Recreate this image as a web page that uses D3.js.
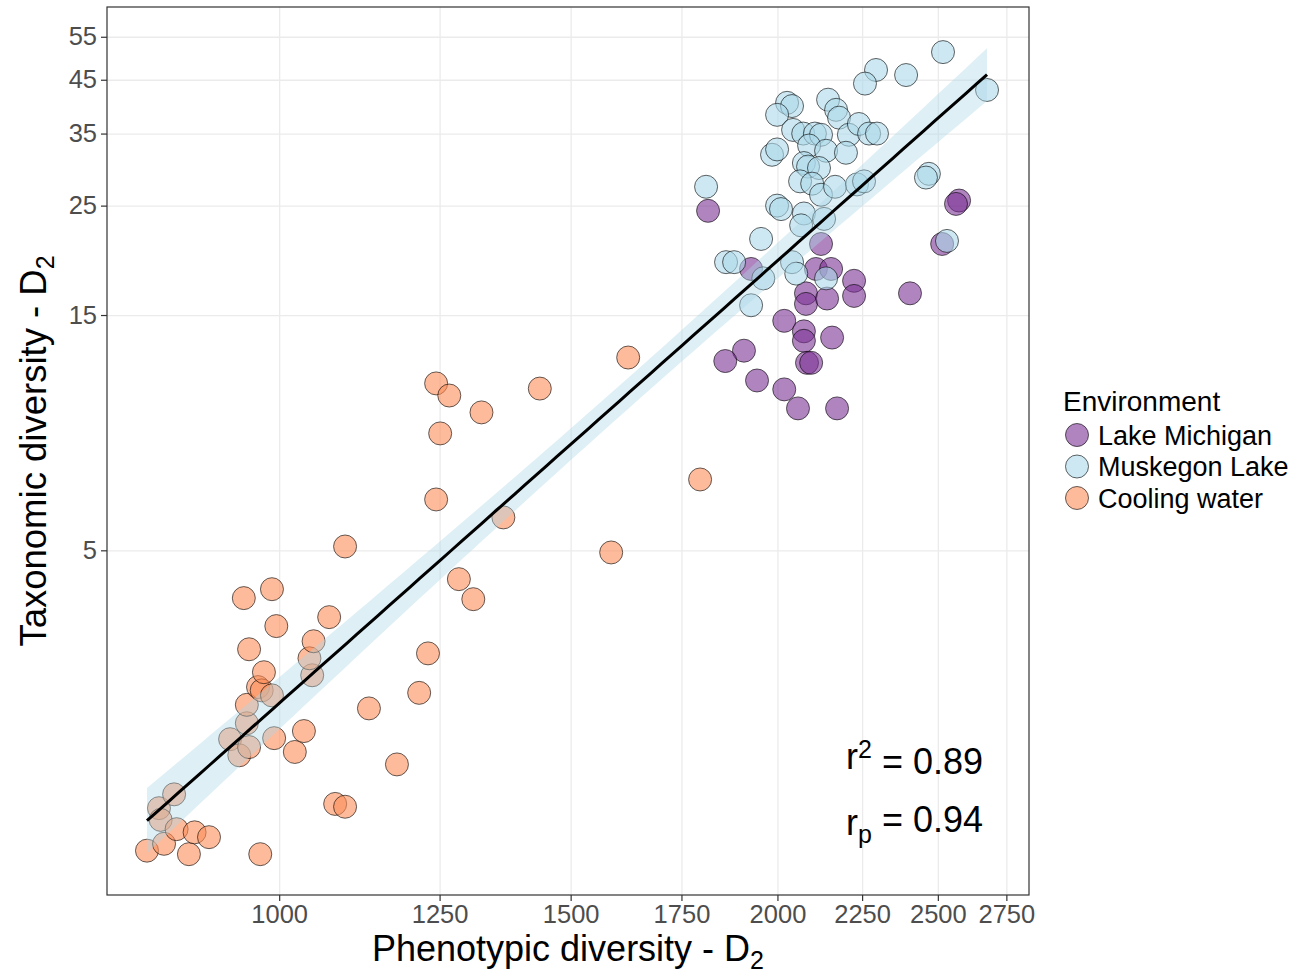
<!DOCTYPE html>
<html>
<head>
<meta charset="utf-8">
<script src="https://cdn.jsdelivr.net/npm/d3@7"></script>
<style>
  body { margin: 0; background: #fff; }
  svg { font-family: "Liberation Sans", Arial, sans-serif; }
</style>
</head>
<body>
<div class="visualization"></div>
<script>
// Values (phenotypic D2, taxonomic D2)
var lakeMichiganX = [1816, 2575, 2564, 2515, 2405, 2125, 1928, 2110, 2155, 2225, 2225, 2081, 2081,
                     2143, 2019, 2075, 2075, 2158, 2084, 2096, 1909, 1860, 1944, 2019, 2058, 2173];
var lakeMichiganY = [24.4, 25.6, 25.2, 20.9, 16.6, 20.9, 18.6, 18.6, 18.6, 17.6, 16.4, 16.6, 15.8,
                     16.2, 14.6, 13.9, 13.3, 13.5, 12.0, 12.0, 12.7, 12.1, 11.05, 10.6, 9.7, 9.7];

var muskegonX = [2518, 2677, 2392, 2294, 2259, 2146, 2170, 2179, 2027, 2041, 1999, 2044, 2073,
                 2107, 2125, 2209, 2240, 2272, 2297, 1985, 1999, 2090, 2140, 2200, 2075, 2087,
                 2119, 2064, 2099, 2125, 2167, 2234, 2256, 2469, 2459, 1811, 1999, 2010, 2075,
                 2067, 2134, 1955, 1862, 1883, 1961, 2041, 2053, 2140, 1928, 2532];
var muskegonY = [51.2, 42.9, 46.0, 47.1, 44.2, 41.0, 39.1, 37.7, 40.4, 39.8, 38.2, 35.6, 35.0,
                 35.0, 34.8, 34.8, 36.6, 35.0, 35.0, 31.7, 32.5, 33.1, 32.3, 32.0, 30.5, 30.0,
                 29.8, 28.0, 27.7, 26.3, 27.3, 27.6, 28.0, 29.0, 28.5, 27.3, 25.0, 24.6, 24.1,
                 22.8, 23.5, 21.4, 19.2, 19.2, 17.8, 19.2, 18.2, 17.8, 15.7, 21.2];

var coolingX = [832, 846, 848, 864, 852, 867, 882, 889, 907, 974, 934, 946, 956, 959, 956, 971,
                976, 979, 990, 993, 952, 990, 996, 959, 1022, 1035, 1047, 1043, 1049, 1072, 1096,
                1081, 1096, 1133, 1178, 1215, 1230, 1244, 1251, 1244, 1267, 1284, 1310, 1325,
                1366, 1437, 1587, 1625, 1796];
var coolingY = [1.23, 1.50, 1.42, 1.60, 1.27, 1.36, 1.21, 1.34, 1.31, 1.21, 2.07, 1.92, 2.23,
                1.995, 2.43, 2.64, 2.60, 2.83, 2.54, 2.08, 4.00, 4.17, 3.51, 3.15, 1.95, 2.15,
                2.79, 3.02, 3.27, 3.66, 5.09, 1.53, 1.51, 2.39, 1.84, 2.57, 3.09, 6.34, 8.63,
                10.9, 10.30, 4.37, 3.98, 9.52, 5.83, 10.64, 4.95, 12.3, 6.96];

var environments = ["Lake Michigan", "Muskegon Lake", "Cooling water"];
var envColors = ["#7B3294", "#ABD9E9", "#FC8D59"];
var xTicks = [1000, 1250, 1500, 1750, 2000, 2250, 2500, 2750];
var yTicks = [5, 15, 25, 35, 45, 55];
var xDomain = [787, 2838];
var yDomain = [1.0, 63.2];

var margin = {top: 7, right: 269, bottom: 78, left: 107};
var width = 922;
var height = 888;

function rows(xs, ys, env){
    return xs.map(function(d, i){ return {x: d, y: ys[i], env: env}; });
}

var points = rows(lakeMichiganX, lakeMichiganY, 0)
    .concat(rows(muskegonX, muskegonY, 1))
    .concat(rows(coolingX, coolingY, 2));

var svg = d3.select(".visualization").append("svg")
    .attr("width", 1298)
    .attr("height", 973);

var viz = svg.append("g")
    .attr("transform", "translate(" + margin.left + "," + margin.top + ")");

var xScale = d3.scaleLog().domain(xDomain).range([0, width]);
var yScale = d3.scaleLog().domain(yDomain).range([height, 0]);

// grid
viz.append("g")
    .attr("transform", "translate(0," + height + ")")
    .call(d3.axisBottom(xScale).tickValues(xTicks).tickSize(-height).tickFormat(""))
    .call(function(g){ g.select(".domain").remove(); });
viz.append("g")
    .call(d3.axisLeft(yScale).tickValues(yTicks).tickSize(-width).tickFormat(""))
    .call(function(g){ g.select(".domain").remove(); });
viz.selectAll(".tick line").attr("stroke", "#EBEBEB").attr("stroke-width", 1.3);

// linear fit on log-log data, with 95% band
var lx = points.map(function(d){ return Math.log10(d.x); });
var ly = points.map(function(d){ return Math.log10(d.y); });
var n = points.length;
var mx = d3.mean(lx), my = d3.mean(ly);
var sxx = d3.sum(lx, function(v){ return (v - mx) * (v - mx); });
var sxy = d3.sum(lx, function(v, i){ return (v - mx) * (ly[i] - my); });
var slope = sxy / sxx;
var icept = my - slope * mx;
var sse = d3.sum(lx, function(v, i){ var r = ly[i] - (icept + slope * v); return r * r; });
var sres = Math.sqrt(sse / (n - 2));
var tval = 1.98;
var xmin = d3.min(lx), xmax = d3.max(lx);
var fit = d3.range(0, 81).map(function(k){
    var v = xmin + (xmax - xmin) * k / 80;
    var f = icept + slope * v;
    var se = sres * Math.sqrt(1 / n + (v - mx) * (v - mx) / sxx);
    return {x: Math.pow(10, v), y: Math.pow(10, f),
            lo: Math.pow(10, f - tval * se), hi: Math.pow(10, f + tval * se)};
});

// points
viz.selectAll(".dot")
    .data(points)
    .enter().append("circle")
    .attr("class", "dot")
    .attr("cx", function(d){ return xScale(d.x); })
    .attr("cy", function(d){ return yScale(d.y); })
    .attr("r", 11.5)
    .attr("fill", function(d){ return envColors[d.env]; })
    .attr("fill-opacity", 0.6)
    .attr("stroke", "#000")
    .attr("stroke-opacity", 0.6)
    .attr("stroke-width", 1);

viz.append("path")
    .datum(fit)
    .attr("fill", "#ADD8E6")
    .attr("fill-opacity", 0.4)
    .attr("d", d3.area()
        .x(function(d){ return xScale(d.x); })
        .y0(function(d){ return yScale(d.lo); })
        .y1(function(d){ return yScale(d.hi); }));

viz.append("path")
    .datum(fit)
    .attr("fill", "none")
    .attr("stroke", "#000")
    .attr("stroke-width", 3)
    .attr("d", d3.line()
        .x(function(d){ return xScale(d.x); })
        .y(function(d){ return yScale(d.y); }));

// panel border
viz.append("rect")
    .attr("width", width).attr("height", height)
    .attr("fill", "none").attr("stroke", "#333").attr("stroke-width", 1.2);

// axes
var xAxis = viz.append("g")
    .attr("transform", "translate(0," + height + ")")
    .call(d3.axisBottom(xScale).tickValues(xTicks).tickSize(6).tickPadding(4).tickFormat(d3.format("d")));
var yAxis = viz.append("g")
    .call(d3.axisLeft(yScale).tickValues(yTicks).tickSize(6).tickPadding(4).tickFormat(d3.format("d")));
[xAxis, yAxis].forEach(function(a){
    a.select(".domain").remove();
    a.selectAll(".tick line").attr("stroke", "#333").attr("stroke-width", 1.2);
    a.selectAll(".tick text").attr("fill", "#4D4D4D").style("font-size", "25.5px")
        .style("font-family", "Liberation Sans, Arial, sans-serif");
});

// axis titles
var xTitle = svg.append("text")
    .attr("x", margin.left + width / 2).attr("y", 961)
    .attr("text-anchor", "middle").style("font-size", "36px");
xTitle.append("tspan").text("Phenotypic diversity - D");
xTitle.append("tspan").attr("dy", "0.3em").style("font-size", "25px").text("2");

var yTitle = svg.append("text")
    .attr("transform", "translate(46," + (margin.top + height / 2) + ") rotate(-90)")
    .attr("text-anchor", "middle").style("font-size", "36.5px");
yTitle.append("tspan").text("Taxonomic diversity - D");
yTitle.append("tspan").attr("dy", "0.3em").style("font-size", "25px").text("2");

// annotation
var ann1 = svg.append("text").attr("x", 846).attr("y", 769).style("font-size", "36px");
ann1.append("tspan").text("r");
ann1.append("tspan").attr("dy", "-0.45em").style("font-size", "25px").text("2");
ann1.append("tspan").attr("dy", "0.45em").text(" = 0.89");
var ann2 = svg.append("text").attr("x", 846).attr("y", 835).style("font-size", "36px");
ann2.append("tspan").text("r");
ann2.append("tspan").attr("dy", "0.3em").style("font-size", "25px").text("p");
ann2.append("tspan").attr("dy", "-0.3em").text(" = 0.94");

// legend
var legend = svg.append("g").attr("transform", "translate(1063,0)");
legend.append("text").attr("x", 0).attr("y", 411).style("font-size", "28px").text("Environment");
var keys = legend.selectAll(".key")
    .data(environments)
    .enter().append("g")
    .attr("class", "key")
    .attr("transform", function(d, i){ return "translate(0," + (435 + i * 31.5) + ")"; });
keys.append("circle")
    .attr("cx", 14).attr("cy", 0).attr("r", 11.5)
    .attr("fill", function(d, i){ return envColors[i]; })
    .attr("fill-opacity", 0.6)
    .attr("stroke", "#000").attr("stroke-opacity", 0.6);
keys.append("text")
    .attr("x", 35).attr("y", 9.5)
    .style("font-size", "27px")
    .text(function(d){ return d; });
</script>
</body>
</html>
